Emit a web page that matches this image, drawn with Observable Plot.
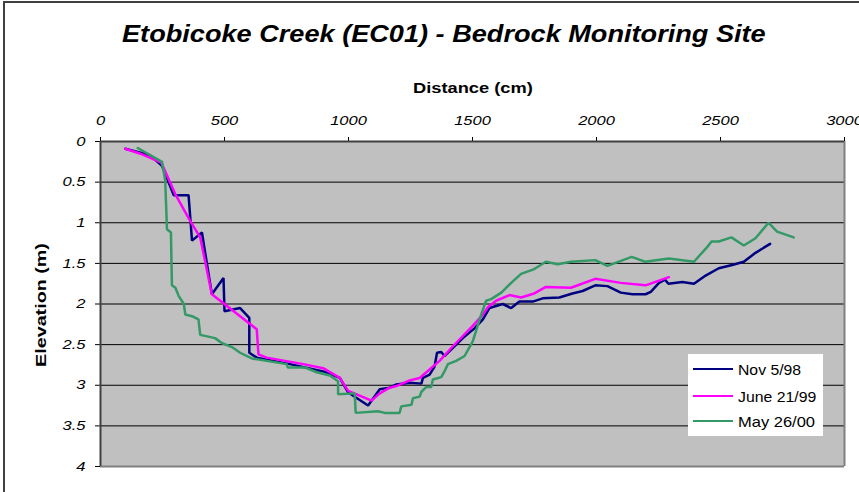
<!DOCTYPE html>
<html><head><meta charset="utf-8">
<script src="https://cdn.jsdelivr.net/npm/d3@7"></script>
<script src="https://cdn.jsdelivr.net/npm/@observablehq/plot@0.6"></script>
<style>
body{margin:0;background:#fff;overflow:hidden}
#wrap{position:relative;width:859px;height:492px;overflow:hidden;font-family:"Liberation Sans",Arial,sans-serif;background:#fff}
#border{position:absolute;left:3px;top:1px;width:900px;height:900px;border-left:2px solid #404040;border-top:2px solid #404040}
#chart{position:absolute;left:0;top:0}
.lbl{position:absolute;white-space:nowrap;line-height:1;color:#000}
#legend{position:absolute;left:688px;top:354px;width:135px;height:82px;background:#fff}
.lg{position:absolute;left:5px;width:40px;height:0;border-top:2.5px solid}
</style></head><body>
<div id="wrap">
 <div id="border"></div>
 <div id="chart"></div>
 <div class="lbl" id="title" style="font-size:23px;font-weight:bold;font-style:italic">Etobicoke Creek (EC01) - Bedrock Monitoring Site</div>
 <div class="lbl" id="xlab" style="font-size:14px;font-weight:bold">Distance (cm)</div>
 <div class="lbl" id="ylab" style="font-size:14px;font-weight:bold">Elevation (m)</div>
 <div id="legend"></div>
</div>
<script>
// ---- data ----
const seriesNames = ["Nov 5/98", "June 21/99", "May 26/00"];
const seriesColors = ["#000080", "#ff00ff", "#339966"];

const nov98X = [100,200,248,295,355,369,409,449,496,500,563,600,600,630,764,898,965,999,1079,1126,1166,1193,1247,1294,1300,1327,1347,1357,1374,1387,1421,1461,1508,1542,1568,1622,1656,1689,1743,1783,1850,1903,1944,1995,2044,2098,2145,2198,2219,2252,2276,2290,2346,2393,2440,2493,2547,2594,2641,2700];
const nov98Y = [0.09,0.17,0.30,0.66,0.66,1.22,1.12,1.88,1.68,2.09,2.05,2.17,2.60,2.66,2.74,2.83,2.91,3.09,3.25,3.05,3.03,2.99,2.97,2.98,2.91,2.87,2.77,2.60,2.59,2.64,2.54,2.42,2.30,2.19,2.05,2.00,2.05,1.97,1.97,1.93,1.92,1.87,1.84,1.77,1.78,1.86,1.88,1.88,1.85,1.74,1.70,1.75,1.73,1.75,1.65,1.56,1.52,1.48,1.37,1.26];

const jun99X = [100,161,245,302,362,402,449,630,637,670,818,898,965,999,1093,1126,1166,1193,1247,1287,1367,1421,1501,1542,1562,1595,1649,1696,1749,1796,1897,1995,2098,2198,2292];
const jun99Y = [0.09,0.15,0.26,0.65,0.98,1.18,1.88,2.31,2.62,2.66,2.74,2.79,2.91,3.07,3.19,3.10,3.03,3.01,2.94,2.91,2.70,2.52,2.27,2.13,2.04,1.96,1.89,1.92,1.87,1.79,1.80,1.69,1.74,1.77,1.67];

const may00X = [150,248,261,268,284,288,302,315,336,342,369,395,402,462,489,530,563,610,751,755,824,872,925,958,958,1025,1029,1119,1146,1206,1213,1254,1260,1287,1294,1314,1334,1340,1374,1387,1401,1434,1468,1501,1535,1555,1575,1616,1656,1696,1749,1796,1843,1897,1995,2044,2142,2196,2292,2393,2446,2464,2493,2544,2594,2641,2694,2728,2795];
const may00Y = [0.08,0.25,0.48,1.08,1.12,1.77,1.80,1.90,2.00,2.13,2.15,2.19,2.38,2.42,2.48,2.53,2.60,2.67,2.74,2.78,2.78,2.84,2.88,2.95,3.11,3.10,3.34,3.32,3.34,3.34,3.26,3.24,3.16,3.14,3.08,3.02,3.02,2.93,2.90,2.83,2.74,2.70,2.64,2.46,2.13,1.96,1.94,1.86,1.74,1.63,1.57,1.48,1.51,1.48,1.46,1.53,1.42,1.48,1.44,1.48,1.30,1.23,1.23,1.18,1.28,1.19,1.00,1.11,1.18];

const xTicks = [0,500,1000,1500,2000,2500,3000];
const yTicks = [0,0.5,1,1.5,2,2.5,3,3.5,4];
const gridLines = [0.5,1,1.5,2,2.5,3,3.5];

const seriesX = [nov98X, jun99X, may00X];
const seriesY = [nov98Y, jun99Y, may00Y];
const data = seriesNames.flatMap((s, i) => seriesX[i].map((x, j) => ({series: s, x, y: seriesY[i][j]})));

const plot = Plot.plot({
  width: 859, height: 492,
  marginTop: 141, marginLeft: 100, marginRight: 15, marginBottom: 26,
  style: {background: "transparent", fontFamily: "'Liberation Sans', Arial, sans-serif", fontSize: "13px", fontStyle: "italic", color: "#000", overflow: "visible"},
  x: {domain: [0, 3000], axis: "top", ticks: xTicks, tickSize: 5, tickPadding: 12, label: null, tickFormat: d => String(d)},
  y: {domain: [0, 4], reverse: true, ticks: yTicks, tickSize: 5, tickPadding: 10, label: null, tickFormat: d => String(d)},
  color: {domain: seriesNames, range: seriesColors},
  marks: [
    Plot.frame({fill: "#c0c0c0", stroke: null}),
    Plot.ruleY(gridLines, {stroke: "#000", strokeWidth: 1}),
    Plot.ruleY([4], {stroke: "#808080", strokeWidth: 2}),
    Plot.ruleX([3000], {stroke: "#808080", strokeWidth: 2}),
    Plot.ruleY([0], {stroke: "#404040", strokeWidth: 2}),
    Plot.ruleX([0], {stroke: "#404040", strokeWidth: 2}),
    Plot.line(data, {x: "x", y: "y", z: "series", stroke: "series", strokeWidth: 2.5, strokeLinejoin: "miter"})
  ]
});
document.getElementById("chart").appendChild(plot);

// stretch tick labels horizontally like the reference
plot.querySelectorAll("text").forEach(t => {
  const L = t.getComputedTextLength();
  t.setAttribute("textLength", (L * 1.27).toFixed(1));
  t.setAttribute("lengthAdjust", "spacingAndGlyphs");
});

// legend
const legend = document.getElementById("legend");
const lgY = [15, 42, 67];
const lgW = [63, 78, 77];
seriesNames.forEach((s, i) => {
  const line = document.createElement("div");
  line.className = "lg";
  line.style.top = (lgY[i] - 1) + "px";
  line.style.borderTopColor = seriesColors[i];
  legend.appendChild(line);
  const t = document.createElement("div");
  t.className = "lbl";
  t.style.fontSize = "15px";
  t.textContent = s;
  legend.appendChild(t);
  const w = t.offsetWidth, h = t.offsetHeight;
  t.style.left = "50px";
  t.style.top = (lgY[i] - h / 2) + "px";
  t.style.transformOrigin = "left center";
  t.style.transform = `scaleX(${lgW[i] / w})`;
});

function place(id, cx, cy, target, rotate) {
  const el = document.getElementById(id);
  const w = el.offsetWidth, h = el.offsetHeight;
  el.style.left = (cx - w / 2) + "px";
  el.style.top = (cy - h / 2) + "px";
  el.style.transformOrigin = "center center";
  el.style.transform = (rotate ? "rotate(-90deg) " : "") + `scaleX(${target / w})`;
}
place("title", 444, 34, 644, false);
place("xlab", 473, 88, 120, false);
place("ylab", 41, 305, 124, true);
</script>
</body></html>
